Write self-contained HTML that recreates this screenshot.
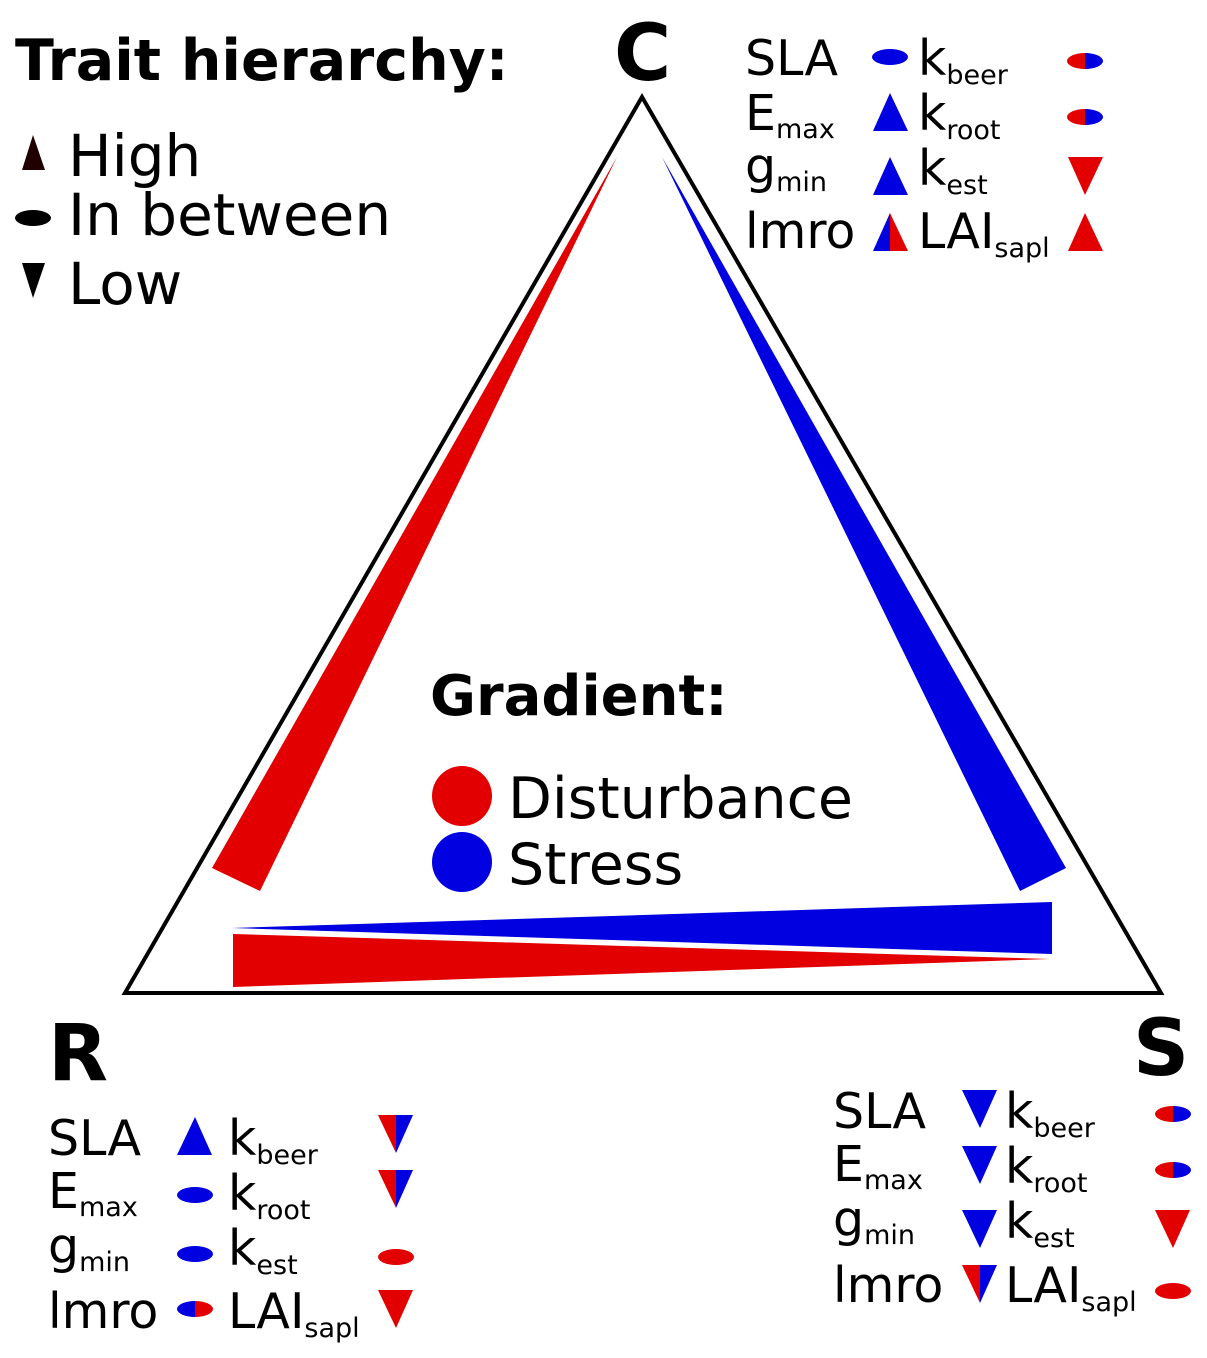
<!DOCTYPE html>
<html><head><meta charset="utf-8"><style>html,body{margin:0;padding:0;background:#fff}svg{display:block}text{font-family:"DejaVu Sans","Liberation Sans",sans-serif;fill:#000}</style></head>
<body>
<svg width="1207" height="1358" viewBox="0 0 1207 1358" xmlns="http://www.w3.org/2000/svg">
<polygon points="642,97 125,993 1161,993" fill="none" stroke="#000" stroke-width="4"/>
<polygon points="617,157 212,868 260,891" fill="#e30000"/>
<polygon points="662,157 1020,891 1066,868" fill="#0000e0"/>
<polygon points="232,928 1052,902 1052,954" fill="#0000e0"/>
<polygon points="233,934 233,987 1050,959" fill="#e30000"/>

<text x="15" y="80" font-size="57" font-weight="bold">Trait hierarchy:</text>
<polygon points="33,135 22,170 45,170" fill="#200000"/>
<text x="68" y="176" font-size="58">High</text>
<ellipse cx="33" cy="218" rx="18" ry="8" fill="#000"/>
<text x="68" y="235" font-size="58">In between</text>
<polygon points="22,263 45,263 33,298" fill="#000"/>
<text x="68" y="304" font-size="58">Low</text>

<text x="614" y="80" font-size="78" font-weight="bold">C</text>
<text x="48" y="1080" font-size="78" font-weight="bold">R</text>
<text x="1133" y="1075" font-size="78" font-weight="bold">S</text>

<text x="430" y="715" font-size="56" font-weight="bold">Gradient:</text>
<circle cx="462" cy="796" r="30" fill="#e30000"/>
<circle cx="462" cy="862" r="30" fill="#0000e0"/>
<text x="508" y="818" font-size="57">Disturbance</text>
<text x="508" y="884" font-size="57">Stress</text>

<!-- C table -->
<g font-size="49">
<text x="745" y="75">SLA</text>
<text x="745" y="130">E<tspan font-size="27" dy="8">max</tspan></text>
<text x="745" y="183">g<tspan font-size="27" dy="8">min</tspan></text>
<text x="745" y="248">lmro</text>
<text x="918" y="75">k<tspan font-size="27" dy="9">beer</tspan></text>
<text x="918" y="130">k<tspan font-size="27" dy="9">root</tspan></text>
<text x="918" y="185">k<tspan font-size="27" dy="9">est</tspan></text>
<text x="918" y="248">LAI<tspan font-size="27" dy="9">sapl</tspan></text>
</g>
<ellipse cx="890" cy="57" rx="18" ry="8" fill="#0000e0"/>
<polygon points="890,93 873,131 908,131" fill="#0000e0"/>
<polygon points="890,157 873,195 908,195" fill="#0000e0"/>
<polygon points="890,213 873,251 890,251" fill="#0000e0"/>
<polygon points="890,213 908,251 890,251" fill="#e30000"/>
<path d="M1085,53 A18,8 0 0 0 1085,69 Z" fill="#e30000"/><path d="M1085,53 A18,8 0 0 1 1085,69 Z" fill="#0000e0"/>
<path d="M1085,109 A18,8 0 0 0 1085,125 Z" fill="#e30000"/><path d="M1085,109 A18,8 0 0 1 1085,125 Z" fill="#0000e0"/>
<polygon points="1068,157 1103,157 1085,195" fill="#e30000"/>
<polygon points="1085,213 1068,251 1103,251" fill="#e30000"/>

<!-- R table -->
<g font-size="49">
<text x="48" y="1155">SLA</text>
<text x="48" y="1208">E<tspan font-size="27" dy="8">max</tspan></text>
<text x="48" y="1263">g<tspan font-size="27" dy="8">min</tspan></text>
<text x="48" y="1328">lmro</text>
<text x="228" y="1155">k<tspan font-size="27" dy="9">beer</tspan></text>
<text x="228" y="1210">k<tspan font-size="27" dy="9">root</tspan></text>
<text x="228" y="1265">k<tspan font-size="27" dy="9">est</tspan></text>
<text x="228" y="1328">LAI<tspan font-size="27" dy="9">sapl</tspan></text>
</g>
<polygon points="195,1117 177,1155 212,1155" fill="#0000e0"/>
<ellipse cx="195" cy="1195" rx="18" ry="8" fill="#0000e0"/>
<ellipse cx="195" cy="1254" rx="18" ry="8" fill="#0000e0"/>
<path d="M195,1301 A18,8 0 0 0 195,1317 Z" fill="#0000e0"/><path d="M195,1301 A18,8 0 0 1 195,1317 Z" fill="#e30000"/>
<polygon points="378,1115 396,1115 396,1153" fill="#e30000"/><polygon points="396,1115 413,1115 396,1153" fill="#0000e0"/>
<polygon points="378,1170 396,1170 396,1208" fill="#e30000"/><polygon points="396,1170 413,1170 396,1208" fill="#0000e0"/>
<ellipse cx="396" cy="1257" rx="18" ry="8" fill="#e30000"/>
<polygon points="378,1290 413,1290 396,1328" fill="#e30000"/>

<!-- S table -->
<g font-size="49">
<text x="833" y="1128">SLA</text>
<text x="833" y="1181">E<tspan font-size="27" dy="8">max</tspan></text>
<text x="833" y="1236">g<tspan font-size="27" dy="8">min</tspan></text>
<text x="833" y="1302">lmro</text>
<text x="1005" y="1128">k<tspan font-size="27" dy="9">beer</tspan></text>
<text x="1005" y="1183">k<tspan font-size="27" dy="9">root</tspan></text>
<text x="1005" y="1238">k<tspan font-size="27" dy="9">est</tspan></text>
<text x="1005" y="1302">LAI<tspan font-size="27" dy="9">sapl</tspan></text>
</g>
<polygon points="962,1090 997,1090 980,1128" fill="#0000e0"/>
<polygon points="962,1146 997,1146 980,1184" fill="#0000e0"/>
<polygon points="962,1210 997,1210 980,1248" fill="#0000e0"/>
<polygon points="962,1265 980,1265 980,1303" fill="#e30000"/><polygon points="980,1265 997,1265 980,1303" fill="#0000e0"/>
<path d="M1173,1106 A18,8 0 0 0 1173,1122 Z" fill="#e30000"/><path d="M1173,1106 A18,8 0 0 1 1173,1122 Z" fill="#0000e0"/>
<path d="M1173,1162 A18,8 0 0 0 1173,1178 Z" fill="#e30000"/><path d="M1173,1162 A18,8 0 0 1 1173,1178 Z" fill="#0000e0"/>
<polygon points="1155,1210 1190,1210 1173,1248" fill="#e30000"/>
<ellipse cx="1173" cy="1291" rx="18" ry="8" fill="#e30000"/>
</svg>
</body></html>
